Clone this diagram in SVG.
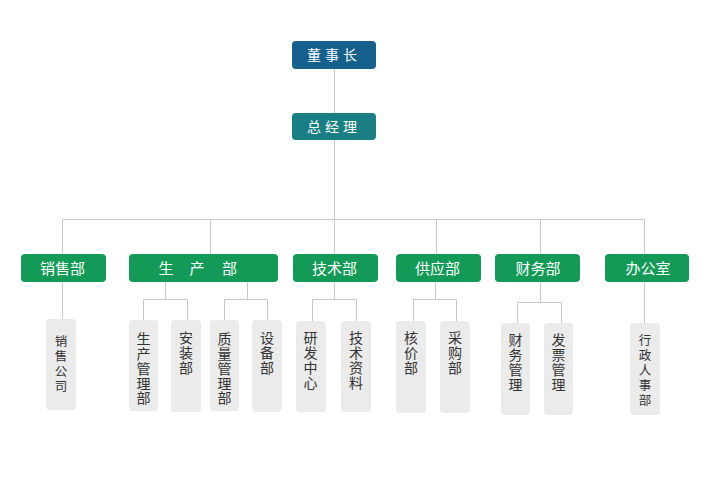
<svg xmlns="http://www.w3.org/2000/svg" width="715" height="480" viewBox="0 0 715 480">
<style>
.top{fill:#15608D}
.gm{fill:#1A7F84}
.dep{fill:#139A56}
.sub{fill:#EBEBEB}
.wt{fill:#fff;font-family:"Noto Sans CJK SC","Noto Sans",sans-serif;font-size:14px;text-anchor:middle}
.dt{font-size:15px}
.st{fill:#333;font-family:"Noto Sans CJK SC","Noto Sans",sans-serif;font-size:14px;writing-mode:vertical-rl;text-orientation:upright;letter-spacing:0.9px}
.sm{font-size:12.5px;letter-spacing:2.6px}
#connectors path{fill:none;stroke:#C8C8C8;stroke-width:1}
</style>
<rect width="715" height="480" fill="#fff"/>
<g id="connectors">
<path d="M334.5 69V113M334.5 140V219.5M62.5 219.5H644.5M62.5 219.5V254M210.5 219.5V254M334.5 219.5V254M436.5 219.5V254M540.5 219.5V254M644.5 219.5V254"/>
<path d="M62.5 282V319"/>
<path d="M165.5 282V299.5M143.5 320V299.5H187.5V320"/>
<path d="M247.5 282V299.5M224.5 320V299.5H267.5V320"/>
<path d="M334.5 282V299.5M312.5 321V299.5H356.5V321"/>
<path d="M435.5 282V299.5M413.5 321V299.5H456.5V321"/>
<path d="M540.5 282V302.5M517.5 323V302.5H561.5V323"/>
<path d="M644.5 282V323"/>
</g>
<g id="n-dsz"><rect class="top" x="292" y="41" width="84" height="28" rx="4"/><text class="wt" x="334" y="60" letter-spacing="4">董事长</text></g>
<g id="n-zjl"><rect class="gm" x="292" y="113" width="84" height="27" rx="4"/><text class="wt" x="334" y="131.5" letter-spacing="4">总经理</text></g>
<g id="n-xsb"><rect class="dep" x="21" y="254" width="85" height="28" rx="4"/><text class="wt dt" x="62.5" y="273.5">销售部</text></g>
<g id="n-scb"><rect class="dep" x="129" y="254" width="149" height="28" rx="4"/><text class="wt dt" y="273.5"><tspan x="166">生</tspan><tspan x="197">产</tspan><tspan x="229.5">部</tspan></text></g>
<g id="n-jsb"><rect class="dep" x="293" y="254" width="85" height="28" rx="4"/><text class="wt dt" x="334.5" y="273.5">技术部</text></g>
<g id="n-gyb"><rect class="dep" x="396" y="254" width="85" height="28" rx="4"/><text class="wt dt" x="437.5" y="273.5">供应部</text></g>
<g id="n-cwb"><rect class="dep" x="495" y="254" width="85" height="28" rx="4"/><text class="wt dt" x="538" y="273.5">财务部</text></g>
<g id="n-bgs"><rect class="dep" x="605" y="254" width="84" height="28" rx="4"/><text class="wt dt" x="648" y="273.5">办公室</text></g>
<g id="n-xsgs"><rect class="sub" x="46" y="319" width="30" height="91" rx="4"/><text class="st sm" x="61" y="334.5">销售公司</text></g>
<g id="n-scglb"><rect class="sub" x="129" y="320" width="29" height="91" rx="4"/><text class="st" x="143.5" y="331.5">生产管理部</text></g>
<g id="n-azb"><rect class="sub" x="171" y="320" width="30" height="92" rx="4"/><text class="st" x="186" y="331">安装部</text></g>
<g id="n-zlglb"><rect class="sub" x="210" y="320" width="29" height="91" rx="4"/><text class="st" x="224.5" y="331.5">质量管理部</text></g>
<g id="n-sbb"><rect class="sub" x="252" y="320" width="30" height="92" rx="4"/><text class="st" x="267" y="331">设备部</text></g>
<g id="n-yfzx"><rect class="sub" x="296" y="321" width="30" height="91" rx="4"/><text class="st" x="310.5" y="331">研发中心</text></g>
<g id="n-jszl"><rect class="sub" x="341" y="321" width="30" height="91" rx="4"/><text class="st" x="356" y="331">技术资料</text></g>
<g id="n-hjb"><rect class="sub" x="396" y="321" width="30" height="92" rx="4"/><text class="st" x="411" y="331">核价部</text></g>
<g id="n-cgb"><rect class="sub" x="440" y="321" width="30" height="92" rx="4"/><text class="st" x="455" y="331">采购部</text></g>
<g id="n-cwgl"><rect class="sub" x="501" y="323" width="29" height="92" rx="4"/><text class="st" x="515.5" y="333">财务管理</text></g>
<g id="n-fpgl"><rect class="sub" x="544" y="323" width="29" height="92" rx="4"/><text class="st" x="558.5" y="333">发票管理</text></g>
<g id="n-xzrsb"><rect class="sub" x="630" y="323" width="30" height="92" rx="4"/><text class="st sm" x="645" y="333.5">行政人事部</text></g>
</svg>
